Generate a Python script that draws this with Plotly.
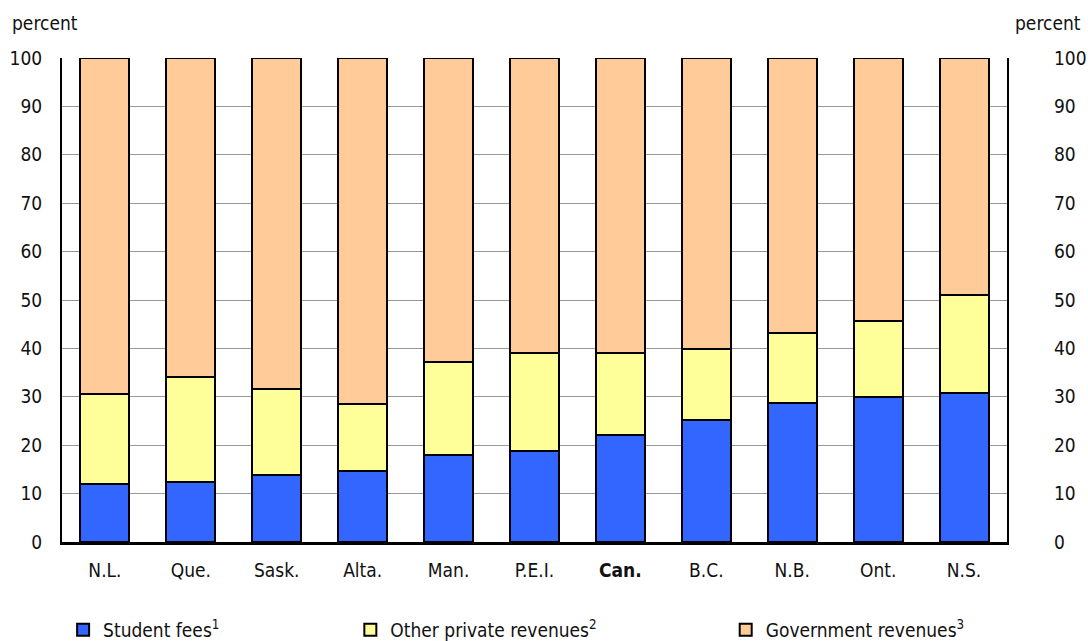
import plotly.graph_objects as go

categories = ["N.L.", "Que.", "Sask.", "Alta.", "Man.", "P.E.I.", "Can.", "B.C.", "N.B.", "Ont.", "N.S."]
tick_labels = ["N.L.", "Que.", "Sask.", "Alta.", "Man.", "P.E.I.", "<b>Can.</b>", "B.C.", "N.B.", "Ont.", "N.S."]
student_fees = [11.9, 12.3, 13.9, 14.7, 18.0, 18.9, 22.1, 25.2, 28.8, 29.9, 30.7]
other_private = [18.6, 21.7, 17.7, 13.8, 19.1, 20.2, 16.9, 14.6, 14.3, 15.7, 20.4]
government = [round(100 - a - b, 1) for a, b in zip(student_fees, other_private)]
y_ticks = [0, 10, 20, 30, 40, 50, 60, 70, 80, 90, 100]

FONT = "DejaVu Sans Condensed, Liberation Sans Narrow, Arial Narrow, sans-serif"
FS = 19
TXT = "#111111"
line = dict(color="black", width=2)

fig = go.Figure()
fig.add_trace(go.Bar(x=categories, y=student_fees, name="Student fees<sup>1</sup>",
                     marker=dict(color="#3366FF", line=line), legend="legend"))
fig.add_trace(go.Bar(x=categories, y=other_private, name="Other private revenues<sup>2</sup>",
                     marker=dict(color="#FFFF99", line=line), legend="legend2"))
fig.add_trace(go.Bar(x=categories, y=government, name="Government revenues<sup>3</sup>",
                     marker=dict(color="#FFCC99", line=line), legend="legend3"))
fig.add_trace(go.Scatter(x=categories, y=[None] * len(categories), yaxis="y2",
                         showlegend=False, hoverinfo="skip", mode="lines"))

legend_common = dict(orientation="h", yanchor="middle", xanchor="left",
                     xref="container", yref="container",
                     font=dict(family=FONT, size=FS, color=TXT),
                     bgcolor="rgba(0,0,0,0)")

fig.update_layout(
    barmode="stack",
    bargap=0.43,
    width=1088, height=641,
    margin=dict(l=62, r=81, t=58, b=99),
    plot_bgcolor="white", paper_bgcolor="white",
    font=dict(family=FONT, size=FS, color=TXT),
    xaxis=dict(
        tickmode="array", tickvals=categories, ticktext=tick_labels,
        showline=True, linecolor="black", linewidth=3, automargin=False,
        ticks="", showgrid=False, ticklabelstandoff=9,
        tickfont=dict(family=FONT, size=FS, color=TXT),
    ),
    yaxis=dict(
        range=[0, 100], tickvals=y_ticks, showgrid=True, gridcolor="#999999", gridwidth=1,
        showline=True, linecolor="black", linewidth=2, mirror=True, automargin=False,
        ticks="", zeroline=False, ticklabelstandoff=14,
        tickfont=dict(family=FONT, size=FS, color=TXT),
    ),
    yaxis2=dict(
        range=[0, 100], tickvals=y_ticks, overlaying="y", side="right", automargin=False,
        showgrid=False, showline=False, ticks="", zeroline=False,
        ticklabelstandoff=46, tickfont=dict(family=FONT, size=FS, color=TXT),
    ),
    legend=dict(x=0.058, y=0.0172, **legend_common),
    legend2=dict(x=0.322, y=0.0172, **legend_common),
    legend3=dict(x=0.667, y=0.0172, **legend_common),
    annotations=[
        dict(text="percent", xref="paper", yref="paper", x=-0.055, y=1.045,
             xanchor="left", yanchor="bottom", showarrow=False,
             font=dict(family=FONT, size=FS, color=TXT)),
        dict(text="percent", xref="paper", yref="paper", x=1.08, y=1.045,
             xanchor="right", yanchor="bottom", showarrow=False,
             font=dict(family=FONT, size=FS, color=TXT)),
    ],
)

fig.write_html(
    "out.html",
    config={"displayModeBar": False},
    post_script="document.body.style.margin='0';document.body.style.overflow='hidden';",
)
